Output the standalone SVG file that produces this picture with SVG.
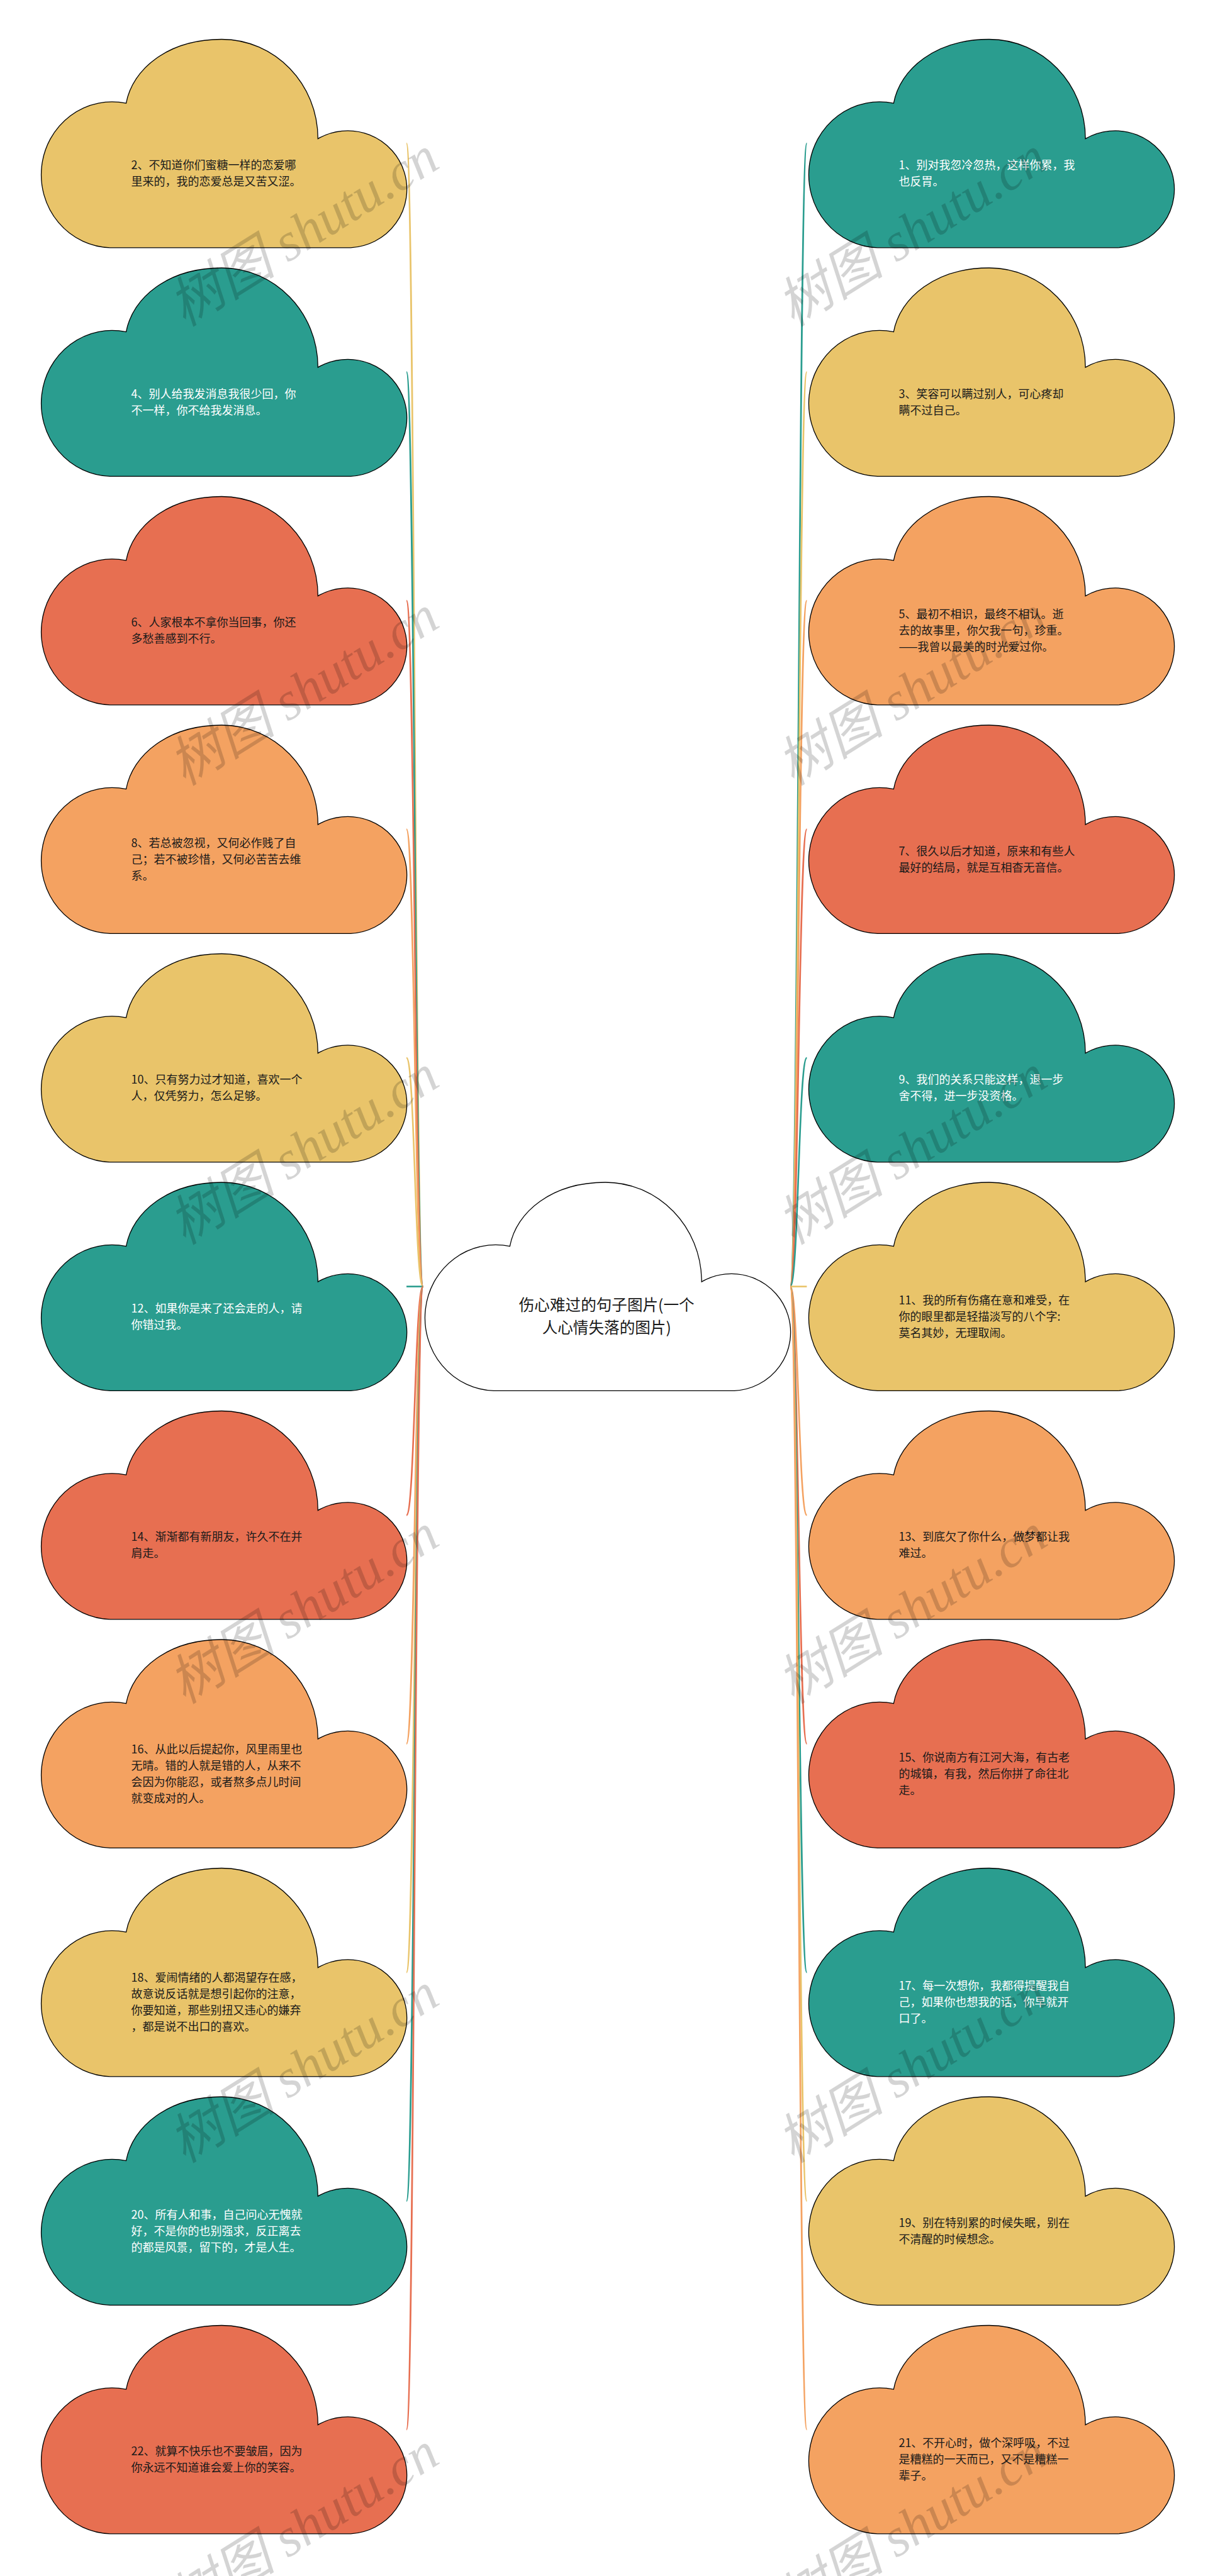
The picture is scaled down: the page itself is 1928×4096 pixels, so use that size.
<svg xmlns="http://www.w3.org/2000/svg" xmlns:xlink="http://www.w3.org/1999/xlink" width="1928" height="4096" viewBox="0 0 1928 4096">
<style>
.cloud{stroke:#000;stroke-width:1.3}
.y{fill:#E9C46A}.t{fill:#2A9D8F}.o{fill:#F4A261}.r{fill:#E76F51}.w{fill:#fff}
.ln{fill:none;stroke-width:2.6}
.ly{stroke:#E9C46A}.lt{stroke:#2A9D8F}.lo{stroke:#F4A261}.lr{stroke:#E76F51}
.tx{font-family:"Noto Sans CJK SC","Noto Sans",sans-serif;font-size:18px}
.dk{fill:#1a1a1a}.wh{fill:#fff}
.ct{font-family:"Noto Sans CJK SC","Noto Sans",sans-serif;font-size:24.6px;fill:#1a1a1a;text-anchor:middle}
.wm{font-family:"Liberation Serif","Noto Sans CJK SC",serif;font-size:86px;fill:#000;fill-opacity:0.17;text-anchor:middle;font-style:italic}
</style>
<defs>
<path id="cloud" d="M 112.4 331.3 A 112.4 116 0 1 1 138 101.7 C 148 46.7 205.3 0 289.8 0 C 374.3 0 442.8 70.8 442.8 158.1 A 94 93 0 1 1 494.9 331.3 Z"/>
</defs>
<rect width="1928" height="4096" fill="#fff"/>
<g id="connectors">
<path class="ln ly" d="M 672.4 2045.65 C 659.25 2045.65 659.25 228.15 646.1 228.15"/>
<path class="ln lt" d="M 672.4 2045.65 C 659.25 2045.65 659.25 591.65 646.1 591.65"/>
<path class="ln lr" d="M 672.4 2045.65 C 659.25 2045.65 659.25 955.15 646.1 955.15"/>
<path class="ln lo" d="M 672.4 2045.65 C 659.25 2045.65 659.25 1318.65 646.1 1318.65"/>
<path class="ln ly" d="M 672.4 2045.65 C 659.25 2045.65 659.25 1682.15 646.1 1682.15"/>
<path class="ln lt" d="M 672.4 2045.65 L 646.1 2045.65"/>
<path class="ln lr" d="M 672.4 2045.65 C 659.25 2045.65 659.25 2409.15 646.1 2409.15"/>
<path class="ln lo" d="M 672.4 2045.65 C 659.25 2045.65 659.25 2772.65 646.1 2772.65"/>
<path class="ln ly" d="M 672.4 2045.65 C 659.25 2045.65 659.25 3136.15 646.1 3136.15"/>
<path class="ln lt" d="M 672.4 2045.65 C 659.25 2045.65 659.25 3499.65 646.1 3499.65"/>
<path class="ln lr" d="M 672.4 2045.65 C 659.25 2045.65 659.25 3863.15 646.1 3863.15"/>
<path class="ln lt" d="M 1256 2045.65 C 1269.2 2045.65 1269.2 228.15 1282.4 228.15"/>
<path class="ln ly" d="M 1256 2045.65 C 1269.2 2045.65 1269.2 591.65 1282.4 591.65"/>
<path class="ln lo" d="M 1256 2045.65 C 1269.2 2045.65 1269.2 955.15 1282.4 955.15"/>
<path class="ln lr" d="M 1256 2045.65 C 1269.2 2045.65 1269.2 1318.65 1282.4 1318.65"/>
<path class="ln lt" d="M 1256 2045.65 C 1269.2 2045.65 1269.2 1682.15 1282.4 1682.15"/>
<path class="ln ly" d="M 1256 2045.65 L 1282.4 2045.65"/>
<path class="ln lo" d="M 1256 2045.65 C 1269.2 2045.65 1269.2 2409.15 1282.4 2409.15"/>
<path class="ln lr" d="M 1256 2045.65 C 1269.2 2045.65 1269.2 2772.65 1282.4 2772.65"/>
<path class="ln lt" d="M 1256 2045.65 C 1269.2 2045.65 1269.2 3136.15 1282.4 3136.15"/>
<path class="ln ly" d="M 1256 2045.65 C 1269.2 2045.65 1269.2 3499.65 1282.4 3499.65"/>
<path class="ln lo" d="M 1256 2045.65 C 1269.2 2045.65 1269.2 3863.15 1282.4 3863.15"/>
</g>
<g id="center">
<use xlink:href="#cloud" href="#cloud" x="672.4" y="1880" class="cloud w"/>
<text class="ct"><tspan x="964.2" y="2084">伤心难过的句子图片(一个</tspan><tspan x="964.2" y="2119.5">人心情失落的图片)</tspan></text>
</g>
<g id="n2"><use href="#cloud" x="62.5" y="62.5" class="cloud y"/><text class="tx dk"><tspan x="208.5" y="269">2、不知道你们蜜糖一样的恋爱哪</tspan><tspan x="208.5" y="295">里来的，我的恋爱总是又苦又涩。</tspan></text></g>
<g id="n4"><use href="#cloud" x="62.5" y="426" class="cloud t"/><text class="tx wh"><tspan x="208.5" y="632.5">4、别人给我发消息我很少回，你</tspan><tspan x="208.5" y="658.5">不一样，你不给我发消息。</tspan></text></g>
<g id="n6"><use href="#cloud" x="62.5" y="789.5" class="cloud r"/><text class="tx dk"><tspan x="208.5" y="996">6、人家根本不拿你当回事，你还</tspan><tspan x="208.5" y="1022">多愁善感到不行。</tspan></text></g>
<g id="n8"><use href="#cloud" x="62.5" y="1153" class="cloud o"/><text class="tx dk"><tspan x="208.5" y="1346.5">8、若总被忽视，又何必作贱了自</tspan><tspan x="208.5" y="1372.5">己；若不被珍惜，又何必苦苦去维</tspan><tspan x="208.5" y="1398.5">系。</tspan></text></g>
<g id="n10"><use href="#cloud" x="62.5" y="1516.5" class="cloud y"/><text class="tx dk"><tspan x="208.5" y="1723">10、只有努力过才知道，喜欢一个</tspan><tspan x="208.5" y="1749">人，仅凭努力，怎么足够。</tspan></text></g>
<g id="n12"><use href="#cloud" x="62.5" y="1880" class="cloud t"/><text class="tx wh"><tspan x="208.5" y="2086.5">12、如果你是来了还会走的人，请</tspan><tspan x="208.5" y="2112.5">你错过我。</tspan></text></g>
<g id="n14"><use href="#cloud" x="62.5" y="2243.5" class="cloud r"/><text class="tx dk"><tspan x="208.5" y="2450">14、渐渐都有新朋友，许久不在并</tspan><tspan x="208.5" y="2476">肩走。</tspan></text></g>
<g id="n16"><use href="#cloud" x="62.5" y="2607" class="cloud o"/><text class="tx dk"><tspan x="208.5" y="2787.5">16、从此以后提起你，风里雨里也</tspan><tspan x="208.5" y="2813.5">无晴。错的人就是错的人，从来不</tspan><tspan x="208.5" y="2839.5">会因为你能忍，或者熬多点儿时间</tspan><tspan x="208.5" y="2865.5">就变成对的人。</tspan></text></g>
<g id="n18"><use href="#cloud" x="62.5" y="2970.5" class="cloud y"/><text class="tx dk"><tspan x="208.5" y="3151">18、爱闹情绪的人都渴望存在感，</tspan><tspan x="208.5" y="3177">故意说反话就是想引起你的注意，</tspan><tspan x="208.5" y="3203">你要知道，那些别扭又违心的嫌弃</tspan><tspan x="208.5" y="3229">，都是说不出口的喜欢。</tspan></text></g>
<g id="n20"><use href="#cloud" x="62.5" y="3334" class="cloud t"/><text class="tx wh"><tspan x="208.5" y="3527.5">20、所有人和事，自己问心无愧就</tspan><tspan x="208.5" y="3553.5">好，不是你的也别强求，反正离去</tspan><tspan x="208.5" y="3579.5">的都是风景，留下的，才是人生。</tspan></text></g>
<g id="n22"><use href="#cloud" x="62.5" y="3697.5" class="cloud r"/><text class="tx dk"><tspan x="208.5" y="3904">22、就算不快乐也不要皱眉，因为</tspan><tspan x="208.5" y="3930">你永远不知道谁会爱上你的笑容。</tspan></text></g>
<g id="n1"><use href="#cloud" x="1282.4" y="62.5" class="cloud t"/><text class="tx wh"><tspan x="1428.4" y="269">1、别对我忽冷忽热，这样你累，我</tspan><tspan x="1428.4" y="295">也反胃。</tspan></text></g>
<g id="n3"><use href="#cloud" x="1282.4" y="426" class="cloud y"/><text class="tx dk"><tspan x="1428.4" y="632.5">3、笑容可以瞒过别人，可心疼却</tspan><tspan x="1428.4" y="658.5">瞒不过自己。</tspan></text></g>
<g id="n5"><use href="#cloud" x="1282.4" y="789.5" class="cloud o"/><text class="tx dk"><tspan x="1428.4" y="983">5、最初不相识，最终不相认。逝</tspan><tspan x="1428.4" y="1009">去的故事里，你欠我一句，珍重。</tspan><tspan x="1428.4" y="1035">——我曾以最美的时光爱过你。</tspan></text></g>
<g id="n7"><use href="#cloud" x="1282.4" y="1153" class="cloud r"/><text class="tx dk"><tspan x="1428.4" y="1359.5">7、很久以后才知道，原来和有些人</tspan><tspan x="1428.4" y="1385.5">最好的结局，就是互相杳无音信。</tspan></text></g>
<g id="n9"><use href="#cloud" x="1282.4" y="1516.5" class="cloud t"/><text class="tx wh"><tspan x="1428.4" y="1723">9、我们的关系只能这样，退一步</tspan><tspan x="1428.4" y="1749">舍不得，进一步没资格。</tspan></text></g>
<g id="n11"><use href="#cloud" x="1282.4" y="1880" class="cloud y"/><text class="tx dk"><tspan x="1428.4" y="2073.5">11、我的所有伤痛在意和难受，在</tspan><tspan x="1428.4" y="2099.5">你的眼里都是轻描淡写的八个字:</tspan><tspan x="1428.4" y="2125.5">莫名其妙，无理取闹。</tspan></text></g>
<g id="n13"><use href="#cloud" x="1282.4" y="2243.5" class="cloud o"/><text class="tx dk"><tspan x="1428.4" y="2450">13、到底欠了你什么，做梦都让我</tspan><tspan x="1428.4" y="2476">难过。</tspan></text></g>
<g id="n15"><use href="#cloud" x="1282.4" y="2607" class="cloud r"/><text class="tx dk"><tspan x="1428.4" y="2800.5">15、你说南方有江河大海，有古老</tspan><tspan x="1428.4" y="2826.5">的城镇，有我，然后你拼了命往北</tspan><tspan x="1428.4" y="2852.5">走。</tspan></text></g>
<g id="n17"><use href="#cloud" x="1282.4" y="2970.5" class="cloud t"/><text class="tx wh"><tspan x="1428.4" y="3164">17、每一次想你，我都得提醒我自</tspan><tspan x="1428.4" y="3190">己，如果你也想我的话，你早就开</tspan><tspan x="1428.4" y="3216">口了。</tspan></text></g>
<g id="n19"><use href="#cloud" x="1282.4" y="3334" class="cloud y"/><text class="tx dk"><tspan x="1428.4" y="3540.5">19、别在特别累的时候失眠，别在</tspan><tspan x="1428.4" y="3566.5">不清醒的时候想念。</tspan></text></g>
<g id="n21"><use href="#cloud" x="1282.4" y="3697.5" class="cloud o"/><text class="tx dk"><tspan x="1428.4" y="3891">21、不开心时，做个深呼吸，不过</tspan><tspan x="1428.4" y="3917">是糟糕的一天而已，又不是糟糕一</tspan><tspan x="1428.4" y="3943">辈子。</tspan></text></g>
<g id="watermarks">
<text class="wm" transform="translate(483,369) rotate(-32)" y="28">树图 shutu.cn</text>
<text class="wm" transform="translate(483,1099) rotate(-32)" y="28">树图 shutu.cn</text>
<text class="wm" transform="translate(483,1829) rotate(-32)" y="28">树图 shutu.cn</text>
<text class="wm" transform="translate(483,2559) rotate(-32)" y="28">树图 shutu.cn</text>
<text class="wm" transform="translate(483,3289) rotate(-32)" y="28">树图 shutu.cn</text>
<text class="wm" transform="translate(483,4019) rotate(-32)" y="28">树图 shutu.cn</text>
<text class="wm" transform="translate(1450,369) rotate(-32)" y="28">树图 shutu.cn</text>
<text class="wm" transform="translate(1450,1099) rotate(-32)" y="28">树图 shutu.cn</text>
<text class="wm" transform="translate(1450,1829) rotate(-32)" y="28">树图 shutu.cn</text>
<text class="wm" transform="translate(1450,2559) rotate(-32)" y="28">树图 shutu.cn</text>
<text class="wm" transform="translate(1450,3289) rotate(-32)" y="28">树图 shutu.cn</text>
<text class="wm" transform="translate(1450,4019) rotate(-32)" y="28">树图 shutu.cn</text>
</g>
</svg>
